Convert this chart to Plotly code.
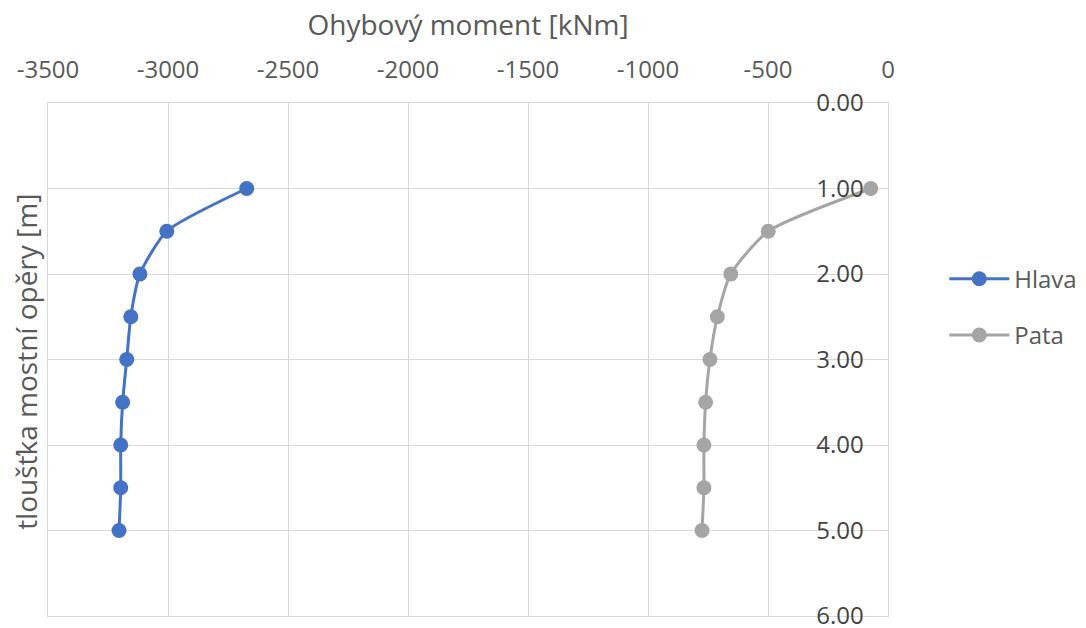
import plotly.graph_objects as go

# Depth along the abutment [m]
depth = [1.0, 1.5, 2.0, 2.5, 3.0, 3.5, 4.0, 4.5, 5.0]

# Bending moment [kNm]
hlava = [-2672, -3005, -3117, -3155, -3172, -3189, -3197, -3197, -3204]
pata = [-72, -499, -655, -711, -742, -760, -767, -767, -775]

x_ticks = [-3500, -3000, -2500, -2000, -1500, -1000, -500, 0]
y_ticks = [0, 1, 2, 3, 4, 5, 6]

TEXT = "#595959"
GRID = "#D9D9D9"
FONT = "Open Sans"

fig = go.Figure()
fig.add_trace(go.Scatter(
    x=hlava, y=depth, name="Hlava", mode="lines+markers",
    line=dict(color="#4472C4", width=3, shape="spline", smoothing=0.6),
    marker=dict(size=15, color="#4472C4"),
    legendgroup="a",
))
fig.add_trace(go.Scatter(
    x=pata, y=depth, name="Pata", mode="lines+markers",
    line=dict(color="#A5A5A5", width=3, shape="spline", smoothing=0.6),
    marker=dict(size=15, color="#A5A5A5"),
    legendgroup="b",
))

fig.update_layout(
    width=1086, height=628,
    margin=dict(l=48, r=198, t=103, b=12, autoexpand=False),
    paper_bgcolor="white", plot_bgcolor="white",
    font=dict(family=FONT, size=24, color=TEXT),
    legend=dict(
        x=1.067, y=0.602, xanchor="left", yanchor="middle",
        font=dict(size=24, color=TEXT),
        tracegroupgap=22, traceorder="grouped", itemwidth=60,
    ),
    xaxis=dict(
        side="top", range=[-3500, 0], tickvals=x_ticks,
        ticktext=[str(v) for v in x_ticks],
        showgrid=True, gridcolor=GRID, gridwidth=1,
        zeroline=False, showline=True, linecolor=GRID, mirror=True,
        ticks="", ticklabelstandoff=14, ticklabeloverflow="allow",
        tickfont=dict(size=24),
        title=dict(text="Ohybový moment [kNm]", font=dict(size=28, color=TEXT), standoff=8),
    ),
    yaxis=dict(
        side="right", range=[6, 0], tickvals=y_ticks,
        ticktext=[f"{v:.2f}" for v in y_ticks],
        showgrid=True, gridcolor=GRID, gridwidth=1,
        zeroline=False, showline=True, linecolor=GRID, mirror=True,
        ticks="", ticklabelposition="inside", ticklabelstandoff=26,
        ticklabeloverflow="allow", tickfont=dict(size=24),
    ),
    annotations=[dict(
        text="tloušťka mostní opěry [m]", textangle=-90,
        xref="paper", yref="paper", x=-0.027, y=0.496,
        xanchor="center", yanchor="middle", showarrow=False,
        font=dict(size=28, color=TEXT),
    )],
)

fig.write_html("out.html")
